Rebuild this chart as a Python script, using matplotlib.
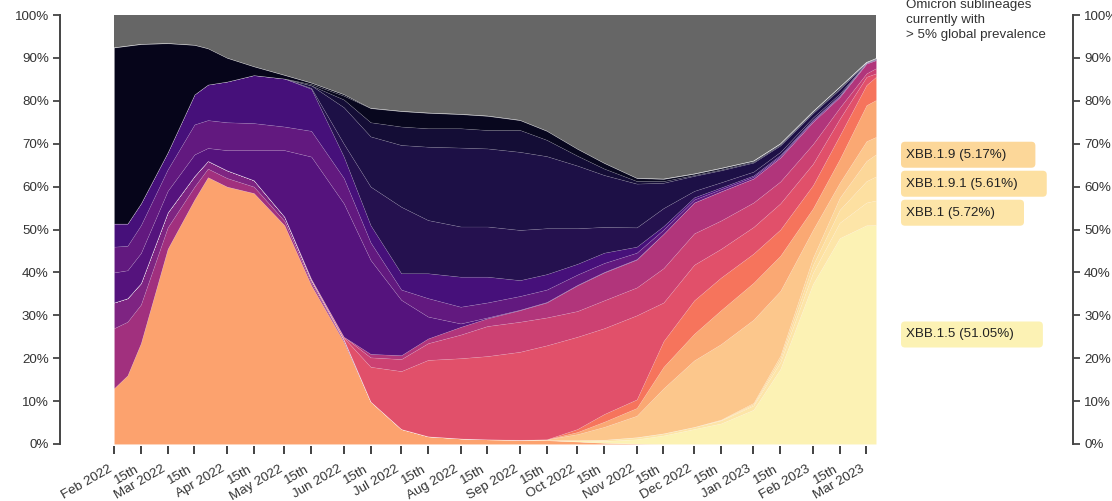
import matplotlib
matplotlib.use('Agg')
import matplotlib.pyplot as plt
from matplotlib.patches import FancyBboxPatch
from matplotlib.transforms import IdentityTransform, ScaledTranslation
import numpy as np
import pandas as pd

plt.rcParams['font.family'] = ['Liberation Sans', 'DejaVu Sans']

# sampling dates
dates = pd.to_datetime([
    '2022-02-01', '2022-02-08', '2022-02-15', '2022-03-01', '2022-03-15', '2022-03-22',
    '2022-04-01', '2022-04-15', '2022-05-01', '2022-05-15', '2022-06-01', '2022-06-15',
    '2022-07-01', '2022-07-15', '2022-08-01', '2022-08-15', '2022-09-01', '2022-09-15',
    '2022-10-01', '2022-10-15', '2022-11-01', '2022-11-15', '2022-12-01', '2022-12-15',
    '2023-01-01', '2023-01-15', '2023-02-01', '2023-02-15', '2023-03-01', '2023-03-06'])

# share (%) of each lineage group, bottom of the stack first
ba_2 = [13, 16, 23.5, 45.5, 57, 62.2, 60, 58.5, 51, 37, 23.8, 9.9, 3.5, 1.8, 1.3,
        1.1, 1.0, 0.9, 0.6, 0.3, 0.1, 0, 0, 0, 0, 0, 0, 0, 0, 0]
ba_1_1 = [14, 12.5, 9, 5, 3, 2, 2, 1.5, 1, 0.6, 0.3, 0, 0, 0, 0,
          0, 0, 0, 0, 0, 0, 0, 0, 0, 0, 0, 0, 0, 0, 0]
ba_1_1_x = [6, 5.5, 5, 3.5, 2.5, 1.8, 1.8, 1.5, 1, 0.6, 0.3, 0, 0, 0, 0,
            0, 0, 0, 0, 0, 0, 0, 0, 0, 0, 0, 0, 0, 0, 0]
xbb_1_5 = [0, 0, 0, 0, 0, 0, 0, 0, 0, 0, 0, 0, 0, 0, 0,
           0, 0, 0, 0.3, 0.4, 1.0, 2.0, 3.5, 4.8, 8.0, 17.5, 37.3, 48.0, 51.0, 51.05]
xbb_1 = [0, 0, 0, 0, 0, 0, 0, 0, 0, 0, 0, 0, 0, 0, 0,
         0, 0, 0, 0, 0.3, 0.5, 0.5, 0.5, 0.7, 1.0, 1.6, 2.6, 3.6, 5.3, 5.72]
xbb_1_9_1 = [0, 0, 0, 0, 0, 0, 0, 0, 0, 0, 0, 0, 0, 0, 0,
             0, 0, 0, 0, 0, 0, 0, 0, 0.1, 0.3, 0.8, 1.8, 3.0, 5.0, 5.61]
xbb_1_9 = [0, 0, 0, 0, 0, 0, 0, 0, 0, 0, 0, 0, 0, 0, 0,
           0, 0, 0, 0, 0, 0, 0, 0, 0.1, 0.3, 0.7, 1.7, 2.8, 4.7, 5.17]
bn_1_group = [0, 0, 0, 0, 0, 0, 0, 0, 0, 0, 0, 0, 0, 0, 0,
              0, 0, 0.2, 1.4, 3.0, 5.0, 10.5, 15.5, 17.6, 19.4, 15.1, 6.5, 3.5, 4.6, 4.05]
ch_1_1_group = [0, 0, 0, 0, 0, 0, 0, 0, 0, 0, 0, 0, 0, 0, 0,
                0, 0, 0, 0.5, 1.2, 1.8, 5.0, 6.2, 7.9, 8.6, 8.2, 5.0, 5.5, 8.4, 8.6]
bq_1_1_group = [0, 0, 0, 0, 0, 0, 0, 0, 0, 0, 0, 0, 0, 0, 0,
                0, 0, 0, 0.7, 1.8, 2.0, 6.0, 7.8, 7.6, 6.8, 6.1, 5.4, 5.5, 4.7, 5.4]
ba_5 = [0, 0, 0, 0, 0, 0, 0, 0, 0, 0.3, 0.4, 8.1, 13.5, 17.8, 18.7,
        19.4, 20.5, 21.9, 21.5, 20, 19.6, 9.0, 8.3, 6.7, 6.2, 6.1, 5.0, 3.9, 1.9, 0.8]
ba_5_2 = [0, 0, 0, 0, 0, 0, 0, 0, 0, 0, 0.2, 2.2, 2.8, 3.9, 5.5,
          7, 7, 6.5, 6, 6.5, 6.5, 8.0, 7.3, 6.6, 5.7, 5.1, 4.6, 2.6, 0.8, 1.2]
bq_1 = [0, 0, 0, 0, 0, 0, 0, 0, 0, 0, 0, 0.8, 0.9, 1.1, 1.8,
        1.8, 2.7, 3.5, 6, 6.5, 6.5, 8.0, 7.2, 6.8, 5.6, 5.6, 5.2, 2.5, 2.3, 1.9]
ba_2_9 = [7, 6.5, 7, 5, 5, 3, 4.7, 7, 15.5, 28.5, 31.1, 21.9, 12.9, 5.1, 0.8,
          0.2, 0.1, 0.1, 0.1, 0.1, 0.1, 0, 0, 0, 0, 0, 0, 0, 0, 0]
ba_2_3 = [6, 5.7, 6.5, 5, 7, 6.5, 6.5, 6.3, 5.5, 6, 5.9, 4.1, 2.4, 4.3, 3.9,
          3.5, 3.2, 2.9, 2.4, 2.1, 1.5, 1.0, 0.7, 0.5, 0.4, 0.3, 0.3, 0.2, 0.1, 0.1]
ba_2_12_1 = [5.4, 5.2, 5.1, 4, 7, 8.3, 9.5, 11.2, 11.2, 9.8, 5, 4, 3.8, 5.8, 7,
             6, 3.7, 3.6, 2.5, 2.4, 1.4, 0.8, 0.5, 0.4, 0.3, 0.3, 0.2, 0.2, 0.1, 0.1]
ba_4_6 = [0, 0, 0, 0, 0, 0, 0, 0, 0, 0.2, 3, 9, 15.5, 12.4, 11.7,
          11.7, 11.7, 10.7, 8.3, 6, 4.5, 4.2, 1.5, 1.2, 0.9, 0.7, 0.5, 0.4, 0, 0]
ba_5_2_1 = [0, 0, 0, 0, 0, 0, 0, 0, 0, 0.6, 8.5, 11.7, 14.4, 17.1, 18.4,
            18.2, 18.2, 16.8, 14.6, 12.1, 10.2, 5.9, 3.5, 2.8, 2.1, 1.5, 1.0, 1.0, 0.1, 0.1]
ba_5_1 = [0, 0, 0, 0, 0, 0, 0, 0, 0, 0, 1.8, 3.3, 4.3, 4.3, 4.5,
          4.3, 5.1, 3.8, 2.3, 1.5, 0.6, 0.4, 0.2, 0.2, 0.2, 0.2, 0.2, 0.2, 0, 0.05]
ba_4 = [0, 0, 0, 0, 0, 0, 0, 0, 0, 0.3, 0.9, 3.3, 3.6, 3.6, 3.3,
        3.3, 2.3, 2.1, 1.6, 1.3, 0.7, 0.5, 0.3, 0.3, 0.2, 0.2, 0.2, 0.3, 0, 0.05]
ba_1 = [41.0, 41.4, 37.1, 25.4, 11.5, 8.4, 5.5, 2.0, 0.8, 0.3, 0.3, 0, 0, 0, 0,
        0, 0, 0, 0, 0, 0, 0, 0, 0, 0, 0, 0, 0, 0, 0]

series = [
    ('BA.2', ba_2, '#fca26e'),
    ('BA.1.1', ba_1_1, '#a1307e'),
    ('BA.1.1.x', ba_1_1_x, '#7e2482'),
    ('XBB.1.5', xbb_1_5, '#fcf2b4'),
    ('XBB.1', xbb_1, '#fde5a8'),
    ('XBB.1.9.1', xbb_1_9_1, '#fde0a1'),
    ('XBB.1.9', xbb_1_9, '#fcd799'),
    ('BN.1 group', bn_1_group, '#fcc78c'),
    ('CH.1.1 group', ch_1_1_group, '#faa873'),
    ('BQ.1.1 group', bq_1_1_group, '#f6745c'),
    ('BA.5', ba_5, '#e1506a'),
    ('BA.5.2', ba_5_2, '#cc4172'),
    ('BQ.1', bq_1, '#b1357b'),
    ('BA.2.9', ba_2_9, '#55137d'),
    ('BA.2.3', ba_2_3, '#62197f'),
    ('BA.2.12.1', ba_2_12_1, '#46107a'),
    ('BA.4.6', ba_4_6, '#25114f'),
    ('BA.5.2.1', ba_5_2_1, '#1d1046'),
    ('BA.5.1', ba_5_1, '#140d36'),
    ('BA.4', ba_4, '#08071e'),
    ('BA.1', ba_1, '#06051a'),
]
labelled = ['XBB.1.5', 'XBB.1', 'XBB.1.9.1', 'XBB.1.9']

values = np.array([s[1] for s in series], dtype=float)
other = 100 - values.sum(axis=0)

W, H = 1112, 501
fig = plt.figure(figsize=(W / 100, H / 100), dpi=100)
ax = fig.add_axes([114 / W, 57 / H, 762 / W, 429 / H])

polys = ax.stackplot(dates, *values, other,
                     colors=[s[2] for s in series] + ['#666666'])
for p in polys[:-1]:
    p.set_edgecolor((1, 1, 1, 0.16))
    p.set_linewidth(0.4)
polys[-1].set_linewidth(0)

ax.set_xlim(dates[0], dates[-1])
ax.set_ylim(0, 100)

# axes styling
px = 72 / 100
ax.spines['top'].set_visible(False)
ax.spines['bottom'].set_color('none')
ax.spines['bottom'].set_position(('outward', 2 * px))
for side, off in (('left', 54), ('right', 197)):
    ax.spines[side].set_position(('outward', off * px))
    ax.spines[side].set_color('#444444')
    ax.spines[side].set_linewidth(1.4)

yt = list(range(0, 101, 10))
ax.set_yticks(yt)
ax.set_yticklabels(['{}%'.format(v) for v in yt])
ax.yaxis.set_ticks_position('both')
ax.tick_params(axis='y', labelleft=True, labelright=True, length=5 * px * 1.4,
               width=1.3, color='#444444', labelsize=9.6, labelcolor='#333333', pad=3)

tick_dates, tick_labels = [], []
for m in pd.date_range('2022-02-01', '2023-03-01', freq='MS'):
    tick_dates.append(m)
    tick_labels.append(m.strftime('%b %Y'))
    mid = m + pd.Timedelta(days=14)
    if mid <= dates[-1]:
        tick_dates.append(mid)
        tick_labels.append('15th')
ax.set_xticks(tick_dates)
ax.set_xticklabels(tick_labels, rotation=30, ha='right', rotation_mode='anchor')
ax.tick_params(axis='x', length=6, width=1.3, color='#333333', labelsize=9.6,
               labelcolor='#333333', pad=4)
shift = ScaledTranslation(-6 / 100, -3 / 100, fig.dpi_scale_trans)
for lab in ax.get_xticklabels():
    lab.set_transform(lab.get_transform() + shift)

# header
for i, line in enumerate(['Omicron sublineages', 'currently with', '> 5% global prevalence']):
    fig.text(906 / W, 1 - (8 + 15 * i) / H, line, fontsize=9.6, color='#333333', va='baseline')

# end labels, pushed apart so they do not overlap
last = values[:, -1]
bottoms = np.concatenate([[0], np.cumsum(last)[:-1]])
names = [s[0] for s in series]
items = []
for name in labelled:
    i = names.index(name)
    mid = bottoms[i] + last[i] / 2
    y = ax.transData.transform((ax.get_xlim()[1], mid))[1]
    items.append([y, name, last[i], series[i][2]])
items.sort()
for k in range(1, len(items)):
    items[k][0] = max(items[k][0], items[k - 1][0] + 29)

renderer = fig.canvas.get_renderer()
for y, name, val, col in items:
    t = fig.text(906 / W, y / H, '{} ({:.2f}%)'.format(name, val), fontsize=9.6,
                 color='#222222', va='center', zorder=5)
    bb = t.get_window_extent(renderer)
    box = FancyBboxPatch((901, y - 13), bb.x1 + 29 - 901, 26,
                         boxstyle='round,pad=0,rounding_size=4',
                         facecolor=col, edgecolor='none', transform=IdentityTransform(), zorder=4)
    fig.add_artist(box)

fig.savefig('out.png', dpi=100)
